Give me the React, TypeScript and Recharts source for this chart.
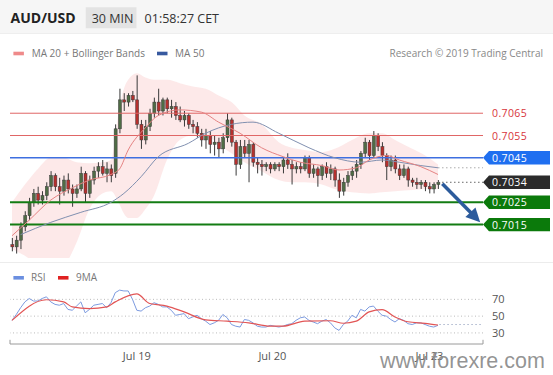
import React from 'react';
import { ComposedChart, Bar, Line, Area, XAxis, YAxis, ReferenceLine } from 'recharts';

// ---------- candles (AUD/USD 30 min) ----------
const openP = [
  0.7006, 0.7005, 0.7008, 0.7014, 0.7019, 0.7025, 0.7029, 0.7026, 0.7028, 0.7032,
  0.7037, 0.7032, 0.7030, 0.7035, 0.7031, 0.7029, 0.7031, 0.7038, 0.7029, 0.7035,
  0.7039, 0.7041, 0.7038, 0.7040, 0.7038, 0.7058, 0.7071, 0.7070, 0.7073, 0.7071,
  0.7060, 0.7053, 0.7059, 0.7065, 0.7070, 0.7066, 0.7071, 0.7067, 0.7068, 0.7064,
  0.7062, 0.7064, 0.7060, 0.7059, 0.7056, 0.7053, 0.7055, 0.7051, 0.7052, 0.7049,
  0.7054, 0.7062, 0.7052, 0.7042, 0.7050, 0.7047, 0.7051, 0.7043, 0.7042, 0.7041,
  0.7042, 0.7040, 0.7042, 0.7041, 0.7044, 0.7042, 0.7040, 0.7041, 0.7040, 0.7045,
  0.7038, 0.7040, 0.7037, 0.7041, 0.7038, 0.7040, 0.7035, 0.7030, 0.7034, 0.7037,
  0.7039, 0.7042, 0.7047, 0.7052, 0.7046, 0.7055, 0.7050, 0.7046, 0.7041, 0.7044,
  0.7040, 0.7037, 0.7040, 0.7035, 0.7034, 0.7033, 0.7034, 0.7032, 0.7031, 0.7033,
];
const highP = [
  0.7009, 0.7010, 0.7016, 0.7021, 0.7027, 0.7031, 0.7032, 0.7030, 0.7034, 0.7039,
  0.7038, 0.7036, 0.7037, 0.7038, 0.7033, 0.7033, 0.7041, 0.7039, 0.7037, 0.7041,
  0.7043, 0.7044, 0.7043, 0.7042, 0.7060, 0.7076, 0.7074, 0.7074, 0.7075, 0.7082,
  0.7062, 0.7062, 0.7067, 0.7072, 0.7076, 0.7072, 0.7072, 0.7071, 0.7070, 0.7068,
  0.7066, 0.7065, 0.7062, 0.7061, 0.7058, 0.7058, 0.7057, 0.7055, 0.7054, 0.7056,
  0.7065, 0.7063, 0.7053, 0.7053, 0.7053, 0.7053, 0.7052, 0.7045, 0.7044, 0.7043,
  0.7043, 0.7043, 0.7043, 0.7045, 0.7047, 0.7044, 0.7043, 0.7043, 0.7046, 0.7046,
  0.7042, 0.7041, 0.7042, 0.7043, 0.7042, 0.7041, 0.7038, 0.7036, 0.7039, 0.7041,
  0.7044, 0.7048, 0.7054, 0.7053, 0.7057, 0.7056, 0.7052, 0.7047, 0.7046, 0.7046,
  0.7042, 0.7042, 0.7041, 0.7036, 0.7036, 0.7035, 0.7035, 0.7034, 0.7034, 0.7035,
];
const lowP = [
  0.7003, 0.7002, 0.7004, 0.7012, 0.7017, 0.7023, 0.7024, 0.7024, 0.7026, 0.7030,
  0.7030, 0.7024, 0.7028, 0.7029, 0.7023, 0.7027, 0.7030, 0.7025, 0.7027, 0.7033,
  0.7036, 0.7037, 0.7034, 0.7034, 0.7036, 0.7056, 0.7066, 0.7068, 0.7070, 0.7058,
  0.7049, 0.7051, 0.7057, 0.7063, 0.7064, 0.7064, 0.7065, 0.7063, 0.7062, 0.7061,
  0.7059, 0.7058, 0.7056, 0.7054, 0.7050, 0.7049, 0.7047, 0.7046, 0.7045, 0.7047,
  0.7052, 0.7050, 0.7037, 0.7040, 0.7045, 0.7034, 0.7041, 0.7038, 0.7037, 0.7039,
  0.7038, 0.7039, 0.7039, 0.7038, 0.7040, 0.7033, 0.7038, 0.7038, 0.7039, 0.7036,
  0.7036, 0.7032, 0.7035, 0.7036, 0.7035, 0.7032, 0.7027, 0.7028, 0.7032, 0.7035,
  0.7036, 0.7040, 0.7045, 0.7044, 0.7045, 0.7048, 0.7043, 0.7035, 0.7039, 0.7038,
  0.7035, 0.7036, 0.7032, 0.7032, 0.7031, 0.7031, 0.7030, 0.7029, 0.7029, 0.7031,
];
const closeP = [
  0.7005, 0.7008, 0.7014, 0.7019, 0.7025, 0.7029, 0.7026, 0.7028, 0.7032, 0.7037,
  0.7032, 0.7030, 0.7035, 0.7031, 0.7029, 0.7031, 0.7038, 0.7029, 0.7035, 0.7039,
  0.7041, 0.7038, 0.7040, 0.7037, 0.7058, 0.7071, 0.7070, 0.7073, 0.7071, 0.7060,
  0.7053, 0.7059, 0.7065, 0.7070, 0.7066, 0.7071, 0.7067, 0.7068, 0.7064, 0.7062,
  0.7064, 0.7060, 0.7059, 0.7056, 0.7053, 0.7055, 0.7051, 0.7052, 0.7049, 0.7054,
  0.7062, 0.7052, 0.7042, 0.7050, 0.7047, 0.7051, 0.7043, 0.7042, 0.7041, 0.7042,
  0.7040, 0.7042, 0.7041, 0.7044, 0.7042, 0.7040, 0.7041, 0.7040, 0.7045, 0.7038,
  0.7040, 0.7037, 0.7041, 0.7038, 0.7040, 0.7035, 0.7030, 0.7034, 0.7037, 0.7039,
  0.7042, 0.7047, 0.7052, 0.7046, 0.7055, 0.7050, 0.7046, 0.7041, 0.7044, 0.7040,
  0.7037, 0.7040, 0.7035, 0.7034, 0.7033, 0.7034, 0.7032, 0.7031, 0.7033, 0.7034,
];

// ---------- indicators (read at candle indexes) ----------
const bandIdx = [0, 3, 6, 9, 12, 15, 18, 21, 23, 25, 26, 27, 29, 31, 33, 36, 39, 42, 45, 48, 51, 54, 58, 62, 65, 68, 72, 75, 79, 83, 86, 89, 93, 96, 99];
const bandUpper = [0.7025, 0.7033, 0.704, 0.7045, 0.7045, 0.7043, 0.70425, 0.7043, 0.7044, 0.7068, 0.7076, 0.708, 0.7083, 0.7081, 0.708, 0.708, 0.70785, 0.7077, 0.7076, 0.7073, 0.707, 0.7064, 0.706, 0.7052, 0.70495, 0.70485, 0.70475, 0.7049, 0.7053, 0.7056, 0.7056, 0.7053, 0.7049, 0.7046, 0.7042];
const bandLower = [0.7004, 0.7001, 0.6997, 0.6996, 0.6997, 0.7007, 0.7022, 0.7029, 0.703, 0.7024, 0.702, 0.7018, 0.7018, 0.7022, 0.7028, 0.7044, 0.7053, 0.7055, 0.7055, 0.7051, 0.7047, 0.7043, 0.7039, 0.7035, 0.7034, 0.7034, 0.7033, 0.7031, 0.70295, 0.7029, 0.70295, 0.703, 0.70305, 0.7031, 0.7031];

const ma20Idx = [0, 4, 9, 14, 18, 23, 25, 27, 31, 34, 39, 44, 48, 53, 58, 63, 67, 72, 76, 80, 83, 87, 90, 95, 99];
const ma20Val = [0.701, 0.7017, 0.7026, 0.70315, 0.7035, 0.70375, 0.704, 0.70485, 0.70585, 0.7064, 0.70665, 0.70655, 0.7061, 0.7056, 0.70495, 0.70455, 0.7043, 0.70415, 0.70395, 0.70405, 0.7044, 0.7046, 0.7044, 0.7041, 0.70375];

const ma50Idx = [2, 9, 16, 23, 26, 30, 34, 41, 45, 51, 56, 62, 69, 75, 81, 86, 90, 95, 99];
const ma50Val = [0.70105, 0.7016, 0.70205, 0.7025, 0.7029, 0.70365, 0.70455, 0.70515, 0.7056, 0.706, 0.7061, 0.7056, 0.70495, 0.7045, 0.7043, 0.7044, 0.7043, 0.70415, 0.70405];

// ---------- RSI panel ----------
const rsiVal = [
  45, 52, 60, 67, 71, 68, 68, 71, 73, 67,
  64, 63, 65, 58, 57, 62, 67, 54, 58, 63,
  64, 65, 60, 66, 78, 81, 80, 80, 70, 57,
  56, 60, 62, 66, 64, 61, 61, 57, 51, 52,
  53, 47, 49, 51, 47, 44, 40, 42, 45, 52,
  48, 40, 38, 37, 46, 45, 42, 38, 37, 37,
  39, 38, 37, 38, 40, 41, 45, 48, 49, 45,
  43, 41, 44, 46, 42, 36, 33, 40, 44, 51,
  48, 58, 56, 61, 62, 56, 51, 50, 46, 43,
  47, 45, 41, 40, 42, 42, 40, 38, 37, 39,
];
const rsiMaIdx = [0, 8, 12, 14, 18, 22, 24, 29, 32, 36, 40, 45, 50, 55, 60, 63, 68, 74, 77, 80, 83, 86, 89, 92, 96, 99];
const rsiMaVal = [45, 69.5, 67, 61, 59, 61, 67, 76.5, 65, 62, 55, 45.5, 44, 42, 38, 38, 44, 44.5, 41.5, 44, 55, 57.8, 49, 43.3, 41.4, 39.4];

// ---------- levels, ticks, forecast ----------
const resistances = [0.7065, 0.7055];
const pivot = 0.7045;
const lastPrice = 0.7034;
const supports = [0.7025, 0.7015];
const ma50Last = 0.70405;
const rsiLast = 40;
const arrowIdx = [100, 107.5];
const arrowVal = [0.70333, 0.70186];
const dayTicks = [29, 60.5, 97];
const dayLabels = ['Jul 19', 'Jul 20', 'Jul 23'];
const rsiTicks = [30, 50, 70];

const X_DOMAIN: [number, number] = [-0.465, 109.45];
const P_DOMAIN: [number, number] = [0.7, 0.7088];
const R_DOMAIN: [number, number] = [16.8, 85.9];

const rows = openP.map((o, i) => ({ i, o, h: highP[i], l: lowP[i], c: closeP[i] }));
const bandData = bandIdx.map((i, k) => ({ i, band: [bandLower[k], bandUpper[k]] }));
const ma20Data = ma20Idx.map((i, k) => ({ i, v: ma20Val[k] }));
const ma50Data = ma50Idx.map((i, k) => ({ i, v: ma50Val[k] }));
const arrowData = arrowIdx.map((i, k) => ({ i, v: arrowVal[k] }));
const rsiRows = rsiVal.map((v, i) => ({ i, rsi: v }));
const rsiMaData = rsiMaIdx.map((i, k) => ({ i, v: rsiMaVal[k] }));

const tagLevels = [...resistances, pivot, lastPrice, ...supports];

const FONT = "'Open Sans', 'DejaVu Sans', sans-serif";

const Candle = (props: any) => {
  const { x, y, width, height, payload } = props;
  if (!payload || payload.o == null) return <g />;
  const { o, h, l, c } = payload;
  const top = Math.min(y, y + height);
  const bot = Math.max(y, y + height);
  const span = h - l;
  const k = span > 0 ? (bot - top) / span : 0;
  const bTop = top + (h - Math.max(o, c)) * k;
  const bBot = top + (h - Math.min(o, c)) * k;
  const cx = x + width / 2;
  const up = c >= o;
  return (
    <g>
      <line x1={cx} x2={cx} y1={top} y2={bot} stroke="#3a3a3a" strokeWidth={1} />
      <rect x={cx - 1.5} y={bTop} width={3} height={Math.max(1, bBot - bTop)} fill={up ? '#4f6c45' : '#b5302e'} stroke="#3a3a3a" strokeWidth={0.5} />
    </g>
  );
};

const Tag = (props: any) => {
  const { x, y, payload } = props;
  const v = payload.value;
  const label = v.toFixed(4);
  if (resistances.includes(v)) {
    return (
      <text x={x + 9} y={y + 4} fontSize={10.5} fill="#d8343b" fontFamily={FONT} letterSpacing={0.4}>{label}</text>
    );
  }
  let fill = '#0b7a0b';
  if (v === pivot) fill = '#1f6ff0';
  if (v === lastPrice) fill = '#2b2b2b';
  const pts = `${x},${y} ${x + 6},${y - 6.7} ${x + 67},${y - 6.7} ${x + 67},${y + 6.7} ${x + 6},${y + 6.7}`;
  return (
    <g>
      <polygon points={pts} fill={fill} />
      <text x={x + 9} y={y + 4} fontSize={10.5} fill="#ffffff" fontFamily={FONT} letterSpacing={0.4}>{label}</text>
    </g>
  );
};

const ArrowHead = (props: any) => {
  const { cx, cy, index } = props;
  if (index !== 1 || cx == null) return <g key={`ah${index}`} />;
  const a = (46 * Math.PI) / 180;
  const ux = Math.cos(a), uy = Math.sin(a);
  const tipX = cx + 8 * ux, tipY = cy + 8 * uy;
  const bx = cx - 6 * ux, by = cy - 6 * uy;
  const px = -uy * 7, py = ux * 7;
  return (
    <polygon key="ah1" points={`${tipX},${tipY} ${bx + px},${by + py} ${bx - px},${by - py}`} fill="#2c5b9c" />
  );
};

export default function App() {
  return (
    <div style={{ position: 'absolute', left: 0, top: 0, width: 553, height: 375, overflow: 'hidden', background: '#fff', fontFamily: FONT }}>
      <svg width={553} height={375} style={{ position: 'absolute', left: 0, top: 0 }}>
        <rect x={0} y={0} width={553} height={33} fill="#f6f6f6" />
        <line x1={0} x2={553} y1={33.5} y2={33.5} stroke="#eeeeee" />
        <line x1={0} x2={553} y1={262.5} y2={262.5} stroke="#ececec" />
        <rect x={85.7} y={7.3} width={50.8} height={21} fill="#e3e3e3" />
      </svg>

      <div style={{ position: 'absolute', left: 0, top: 0 }}>
        <ComposedChart width={553} height={262} data={rows} margin={{ top: 62, right: 0, bottom: 4, left: 10 }}>
          <XAxis dataKey="i" type="number" domain={X_DOMAIN} allowDataOverflow hide />
          <YAxis
            orientation="right"
            type="number"
            width={70}
            domain={P_DOMAIN}
            allowDataOverflow
            ticks={tagLevels}
            interval={0}
            axisLine={false}
            tickLine={false}
            tickSize={0}
            tickMargin={0}
            tick={<Tag />}
          />
          <Area data={bandData} dataKey="band" type="monotone" stroke="none" fill="#fbd3d3" fillOpacity={0.5} isAnimationActive={false} />
          {resistances.map((r) => (
            <ReferenceLine key={r} y={r} stroke="#e06666" strokeWidth={1} />
          ))}
          <ReferenceLine y={pivot} stroke="#3e6fe0" strokeWidth={1.5} />
          {supports.map((s) => (
            <ReferenceLine key={s} y={s} stroke="#137c13" strokeWidth={2} />
          ))}
          <ReferenceLine segment={[{ x: 99, y: ma50Last }, { x: X_DOMAIN[1], y: ma50Last }]} stroke="#aaaaaa" strokeDasharray="1.5 2.5" ifOverflow="visible" />
          <ReferenceLine segment={[{ x: 99, y: lastPrice }, { x: X_DOMAIN[1], y: lastPrice }]} stroke="#666666" strokeDasharray="1.5 2.5" ifOverflow="visible" />
          <Line data={ma50Data} dataKey="v" type="monotone" stroke="#8190b0" strokeWidth={1} dot={false} isAnimationActive={false} />
          <Line data={ma20Data} dataKey="v" type="monotone" stroke="#e58383" strokeWidth={1} dot={false} isAnimationActive={false} />
          <Bar dataKey={(d: any) => [d.l, d.h]} barSize={3} shape={<Candle />} isAnimationActive={false} />
          <Line data={arrowData} dataKey="v" type="linear" stroke="#2c5b9c" strokeWidth={3.5} dot={ArrowHead} activeDot={false} isAnimationActive={false} />
        </ComposedChart>
      </div>

      <div style={{ position: 'absolute', left: 0, top: 262 }}>
        <ComposedChart width={553} height={113} data={rsiRows} margin={{ top: 24, right: 0, bottom: 11, left: 10 }}>
          <XAxis
            dataKey="i"
            type="number"
            domain={X_DOMAIN}
            allowDataOverflow
            ticks={dayTicks}
            interval={0}
            tickFormatter={(v: number) => dayLabels[dayTicks.indexOf(v)] ?? ''}
            axisLine={{ stroke: '#9a9a9a' }}
            tickLine={false}
            tickSize={0}
            tickMargin={8}
            height={20}
            tick={{ fontSize: 11, fill: '#555', fontFamily: FONT }}
          />
          <YAxis
            orientation="right"
            type="number"
            width={70}
            domain={R_DOMAIN}
            allowDataOverflow
            ticks={rsiTicks}
            interval={0}
            axisLine={false}
            tickLine={false}
            tickSize={0}
            tickMargin={9}
            tick={{ fontSize: 11, fill: '#555', fontFamily: FONT }}
          />
          {rsiTicks.map((t) => (
            <ReferenceLine key={t} y={t} stroke="#bbbbbb" strokeDasharray="1 2.5" />
          ))}
          <ReferenceLine segment={[{ x: 99.3, y: rsiLast }, { x: X_DOMAIN[1], y: rsiLast }]} stroke="#aab4cc" strokeDasharray="1.5 2.5" ifOverflow="visible" />
          <ReferenceLine segment={[{ x: X_DOMAIN[0], y: R_DOMAIN[0] }, { x: X_DOMAIN[0], y: R_DOMAIN[0] + 5 }]} stroke="#9a9a9a" ifOverflow="visible" />
          <ReferenceLine segment={[{ x: X_DOMAIN[1], y: R_DOMAIN[0] }, { x: X_DOMAIN[1], y: R_DOMAIN[0] + 5 }]} stroke="#9a9a9a" ifOverflow="visible" />
          <Line dataKey="rsi" type="linear" stroke="#7d9be0" strokeWidth={1} dot={false} isAnimationActive={false} />
          <Line data={rsiMaData} dataKey="v" type="monotone" stroke="#e25555" strokeWidth={1.2} dot={false} isAnimationActive={false} />
        </ComposedChart>
      </div>

      <svg width={553} height={375} style={{ position: 'absolute', left: 0, top: 0, pointerEvents: 'none' }}>
        <text x={10.6} y={22.7} fontSize={14} fontWeight={700} fill="#222" fontFamily={FONT}>AUD/USD</text>
        <text x={91.7} y={22.5} fontSize={12.5} fill="#333" fontFamily={FONT}>30 MIN</text>
        <text x={144.6} y={22.5} fontSize={12.5} fill="#333" fontFamily={FONT}>01:58:27 CET</text>

        <rect x={13.4} y={51.7} width={10.5} height={3.6} fill="#ef8a8a" />
        <text x={31.7} y={57} fontSize={10} fill="#777" fontFamily={FONT}>MA 20 + Bollinger Bands</text>
        <rect x={157} y={51.7} width={10.5} height={3.6} fill="#37599f" />
        <text x={175} y={57} fontSize={10} fill="#777" fontFamily={FONT}>MA 50</text>
        <text x={543} y={57} fontSize={10} fill="#888" fontFamily={FONT} textAnchor="end">Research © 2019 Trading Central</text>

        <rect x={13.4} y={276} width={10.5} height={3.6} fill="#6b8fe0" />
        <text x={31} y={281.3} fontSize={10} fill="#777" fontFamily={FONT}>RSI</text>
        <rect x={58} y={276} width={10.5} height={3.6} fill="#e02222" />
        <text x={76} y={281.3} fontSize={10} fill="#777" fontFamily={FONT}>9MA</text>

        <text x={380} y={368} fontSize={21.5} fill="#8a8a8a" fillOpacity={0.92} fontFamily="'Liberation Sans', Arial, sans-serif">www.forexre.com</text>
      </svg>
    </div>
  );
}
